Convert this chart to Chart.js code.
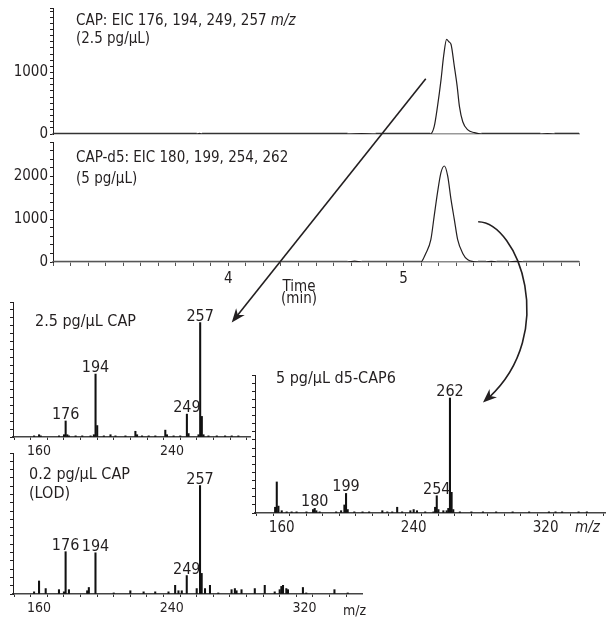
<!DOCTYPE html>
<html>
<head>
<meta charset="utf-8">
<script src="https://cdn.jsdelivr.net/npm/chart.js@4.4.1/dist/chart.umd.min.js"></script>
<style>
  html, body { margin: 0; padding: 0; background: #fff; }
  body { width: 614px; height: 621px; position: relative; overflow: hidden; }
  canvas { position: absolute; }
</style>
</head>
<body>
<canvas id="cromCap" width="614" height="142" style="left:0;top:0"></canvas>
<canvas id="cromD5" width="614" height="175" style="left:0;top:138px"></canvas>
<canvas id="espCap25" width="262" height="172" style="left:0;top:290px"></canvas>
<canvas id="espCap02" width="380" height="176" style="left:0;top:445px"></canvas>
<canvas id="espD5" width="369" height="175" style="left:245px;top:365px"></canvas>
<canvas id="setas" width="614" height="621" style="left:0;top:0;pointer-events:none"></canvas>
<script>
// --- cromatogramas (tempo em min, abundancia) ---
const tempoCap = [3.0, 3.82, 3.835, 3.85, 4.68, 4.76, 4.84, 5.151, 5.174, 5.193, 5.213, 5.228, 5.245, 5.258, 5.270, 5.289, 5.305, 5.318, 5.337, 5.366, 5.404, 5.443, 5.78, 5.82, 5.86, 6.0];
const abundCap = [0, 0, 10, 0, 0, 8, 0, 0, 120, 450, 880, 1270, 1540, 1500, 1460, 1100, 780, 450, 200, 66, 22, 0, 0, 8, 0, 0];

const tempoD5 = [3.0, 4.68, 4.72, 4.76, 5.098, 5.126, 5.155, 5.174, 5.193, 5.213, 5.232, 5.251, 5.270, 5.289, 5.308, 5.337, 5.366, 5.424, 5.47, 5.50, 5.53, 5.60, 5.64, 5.68, 6.0];
const abundD5 = [0, 0, 20, 0, 0, 200, 520, 1070, 1620, 2090, 2240, 2010, 1460, 990, 520, 200, 50, 0, 0, 15, 0, 0, 15, 0, 0];

const ticksTempo = [4, 5];
const ticksAbundCap = [0, 1000];
const ticksAbundD5 = [0, 1000, 2000];

// --- espectros de massa (m/z, intensidade relativa %) ---
const mzCap25 = [157, 160, 161, 172, 175, 176, 177, 178, 182, 186, 191, 193, 194, 195, 199, 203, 206, 212, 218, 219, 222, 226, 230, 236, 237, 241, 245, 249, 250, 256, 257, 258, 259, 262, 267, 272, 276, 280];
const intCap25 = [1, 2, 1, 1, 2, 14, 2, 1, 1, 1, 1, 2, 55, 10, 1, 2, 1, 1, 5, 2, 1, 1, 1, 6, 2, 1, 1, 20, 3, 2, 100, 18, 2, 1, 1, 1, 1, 1];
const picosCap25 = [176, 194, 249, 257];

const mzCap02 = [157, 160, 164, 172, 175, 176, 178, 189, 190, 194, 205, 215, 223, 230, 238, 242, 244, 246, 249, 255, 257, 258, 260, 263, 268, 276, 278, 279, 282, 290, 296, 302, 305, 306, 307, 309, 310, 319, 321, 338, 346];
const intCap02 = [2, 12, 5, 4, 2, 39, 4, 3, 6, 38, 1, 3, 2, 2, 2, 8, 3, 3, 17, 5, 100, 19, 5, 8, 1, 4, 5, 3, 4, 5, 8, 2, 4, 7, 8, 5, 4, 6, 1, 4, 1];
const picosCap02 = [176, 194, 249, 257];

const mzD5 = [156, 157, 158, 160, 163, 166, 169, 175, 179, 180, 181, 183, 193, 196, 198, 199, 200, 204, 209, 213, 221, 224, 227, 230, 233, 238, 240, 242, 247, 252, 253, 254, 255, 258, 260, 261, 262, 263, 264, 268, 275, 282, 290, 300, 310, 322, 326, 330, 340, 345];
const intD5 = [5, 27, 6, 2, 1, 1, 1, 1, 3, 4, 2, 1, 1, 2, 7, 17, 3, 1, 1, 1, 2, 1, 1, 5, 1, 2, 3, 2, 1, 1, 5, 15, 3, 2, 2, 4, 100, 18, 3, 1, 1, 1, 1, 1, 1, 1, 1, 1, 1, 1];
const picosD5 = [180, 199, 254, 262];

const ticksMz = [160, 240, 320];

const FONTE = '"Liberation Sans Narrow", "DejaVu Sans Condensed", "Liberation Sans", sans-serif';
const COR = '#231f20';

// desenha os textos soltos (titulos dos paineis)
const textosPlugin = {
    id: 'textos',
    afterDraw(chart, args, opts) {
        const ctx = chart.ctx;
        (opts.linhas || []).forEach(l => {
            ctx.save();
            ctx.fillStyle = COR;
            ctx.textBaseline = 'alphabetic';
            ctx.textAlign = l.alinhar || 'left';
            ctx.font = `${l.tamanho}px ${FONTE}`;
            ctx.fillText(l.texto, l.x, l.y);
            if (l.italico) {
                let x = l.x + ctx.measureText(l.texto).width;
                ctx.font = `italic ${l.tamanho}px ${FONTE}`;
                ctx.fillText(l.italico, x, l.y);
            }
            ctx.restore();
        });
    }
};

// rotulos em cima dos picos principais
const rotulosPlugin = {
    id: 'rotulos',
    afterDatasetsDraw(chart, args, opts) {
        if (!opts.picos) return;
        const ctx = chart.ctx;
        const dados = chart.data.datasets[0].data;
        ctx.save();
        ctx.fillStyle = COR;
        ctx.font = `16px ${FONTE}`;
        ctx.textAlign = 'center';
        ctx.textBaseline = 'alphabetic';
        opts.picos.forEach(mz => {
            const p = dados.find(d => d.x === mz);
            const x = chart.scales.x.getPixelForValue(p.x);
            const y = chart.scales.y.getPixelForValue(p.y);
            ctx.fillText(String(mz), x, y - 2);
        });
        ctx.restore();
    }
};

function fixaEixo(tamanho) {
    return function (eixo) {
        if (eixo.isHorizontal()) eixo.height = tamanho;
        else eixo.width = tamanho;
        eixo.paddingTop = 0;
        eixo.paddingBottom = 0;
        eixo.paddingLeft = 0;
        eixo.paddingRight = 0;
    };
}

function passos(inicio, fim, n) {
    let lista = [];
    for (let i = 0; i <= n; i++) lista.push(inicio + (fim - inicio) * i / n);
    return lista;
}

function criarCromatograma(id, tempos, valores, cfg) {
    return new Chart(document.getElementById(id), {
        type: 'line',
        data: {
            datasets: [{
                data: tempos.map((t, i) => ({ x: t, y: valores[i] })),
                borderColor: COR,
                borderWidth: 1.2,
                pointRadius: 0,
                cubicInterpolationMode: 'monotone',
                segment: {
                    borderWidth: c => (c.p0.parsed.y === 0 && c.p1.parsed.y === 0) ? 2.6 : 1.2,
                    borderColor: c => (c.p0.parsed.y === 0 && c.p1.parsed.y === 0) ? cfg.corBase : COR
                }
            }]
        },
        options: {
            responsive: false,
            animation: false,
            events: [],
            layout: { padding: cfg.padding },
            plugins: {
                legend: { display: false },
                tooltip: { enabled: false },
                textos: { linhas: cfg.textos }
            },
            scales: {
                x: {
                    type: 'linear',
                    min: 3,
                    max: 6,
                    afterBuildTicks: eixo => { eixo.ticks = passos(3, 6, 30).map(v => ({ value: v })); },
                    afterFit: fixaEixo(cfg.alturaX),
                    border: { display: true, color: cfg.corEixoX, width: 1.5 },
                    grid: { display: cfg.ticksX, drawOnChartArea: false, drawTicks: true, tickLength: 4, color: '#555' },
                    ticks: {
                        display: cfg.ticksX,
                        autoSkip: false,
                        maxRotation: 0,
                        padding: 4,
                        color: COR,
                        font: { family: FONTE, size: 15 },
                        callback: v => ticksTempo.find(t => Math.abs(t - v) < 1e-6) ? String(Math.round(v)) : ''
                    }
                },
                y: {
                    min: 0,
                    max: cfg.maxY,
                    afterBuildTicks: eixo => {
                        let lista = [];
                        for (let v = 0; v <= cfg.maxY; v += cfg.passoY) lista.push({ value: v });
                        lista.push({ value: cfg.maxY });
                        eixo.ticks = lista;
                    },
                    afterFit: fixaEixo(53),
                    border: { display: true, color: COR, width: 1 },
                    grid: { drawOnChartArea: false, drawTicks: true, tickLength: 3, color: COR },
                    ticks: {
                        autoSkip: false,
                        padding: 2,
                        color: COR,
                        font: { family: FONTE, size: 15 },
                        callback: v => cfg.rotulosY.includes(v) ? String(v) : ''
                    }
                }
            }
        },
        plugins: [textosPlugin]
    });
}

function criarEspectro(id, mz, intens, cfg) {
    return new Chart(document.getElementById(id), {
        type: 'bar',
        data: {
            datasets: [{
                data: mz.map((m, i) => ({ x: m, y: intens[i] })),
                backgroundColor: '#111',
                barThickness: 1.4
            }]
        },
        options: {
            responsive: false,
            animation: false,
            events: [],
            layout: { padding: cfg.padding },
            plugins: {
                legend: { display: false },
                tooltip: { enabled: false },
                textos: { linhas: cfg.textos },
                rotulos: { picos: cfg.picos }
            },
            scales: {
                x: {
                    type: 'linear',
                    min: cfg.minX,
                    max: cfg.maxX,
                    offset: false,
                    afterBuildTicks: eixo => {
                        let lista = [];
                        for (let v = 150; v <= cfg.maxX; v += 10) lista.push({ value: v });
                        eixo.ticks = lista;
                    },
                    afterFit: fixaEixo(cfg.alturaX),
                    border: { display: true, color: '#444', width: 1.5 },
                    grid: { drawOnChartArea: false, drawTicks: true, tickLength: 3, color: '#333' },
                    ticks: {
                        autoSkip: false,
                        maxRotation: 0,
                        padding: 3,
                        color: COR,
                        font: { family: FONTE, size: cfg.fonteX },
                        callback: v => ticksMz.includes(v) ? String(v) : ''
                    }
                },
                y: {
                    min: 0,
                    max: cfg.maxY,
                    afterBuildTicks: eixo => { eixo.ticks = passos(0, cfg.maxY, 17).map(v => ({ value: v })); },
                    afterFit: fixaEixo(cfg.larguraY),
                    border: { display: true, color: COR, width: 1 },
                    grid: { drawOnChartArea: false, drawTicks: true, tickLength: 3, color: COR },
                    ticks: { display: false }
                }
            }
        },
        plugins: [textosPlugin, rotulosPlugin]
    });
}

let cromCap = criarCromatograma('cromCap', tempoCap, abundCap, {
    padding: { top: 8, right: 35, left: 0, bottom: 0 },
    alturaX: 8, maxY: 2050, passoY: 100, rotulosY: ticksAbundCap,
    ticksX: false, corEixoX: '#999', corBase: '#333',
    textos: [
        { texto: 'CAP: EIC 176, 194, 249, 257 ', italico: 'm/z', x: 76, y: 25, tamanho: 15 },
        { texto: '(2.5 pg/µL)', x: 76, y: 43, tamanho: 15 }
    ]
});

let cromD5 = criarCromatograma('cromD5', tempoD5, abundD5, {
    padding: { top: 4, right: 35, left: 0, bottom: 0 },
    alturaX: 51, maxY: 2800, passoY: 200, rotulosY: ticksAbundD5,
    ticksX: true, corEixoX: '#888', corBase: '#555',
    textos: [
        { texto: 'CAP-d5: EIC 180, 199, 254, 262', x: 76, y: 24, tamanho: 15 },
        { texto: '(5 pg/µL)', x: 76, y: 44.5, tamanho: 15 },
        { texto: 'Time', x: 299, y: 153, tamanho: 15, alinhar: 'center' },
        { texto: '(min)', x: 299, y: 165, tamanho: 15, alinhar: 'center' }
    ]
});

let espCap25 = criarEspectro('espCap25', mzCap25, intCap25, {
    padding: { top: 12, right: 12, left: 0, bottom: 0 },
    minX: 144.3, maxX: 287, maxY: 118, larguraY: 13, alturaX: 25, fonteX: 14,
    picos: picosCap25,
    textos: [{ texto: '2.5 pg/µL CAP', x: 35, y: 35.7, tamanho: 16 }]
});

let espCap02 = criarEspectro('espCap02', mzCap02, intCap02, {
    padding: { top: 8, right: 18, left: 0, bottom: 0 },
    minX: 144.3, maxX: 354.6, maxY: 130, larguraY: 13, alturaX: 27, fonteX: 14,
    picos: picosCap02,
    textos: [
        { texto: '0.2 pg/µL CAP', x: 29, y: 34, tamanho: 16 },
        { texto: '(LOD)', x: 29, y: 53, tamanho: 16 },
        { texto: 'm/z', x: 343, y: 170, tamanho: 14 }
    ]
});

let espD5 = criarEspectro('espD5', mzD5, intD5, {
    padding: { top: 10, right: 9, left: 0, bottom: 0 },
    minX: 143.8, maxX: 356, maxY: 120, larguraY: 10, alturaX: 27, fonteX: 15,
    picos: picosD5,
    textos: [
        { texto: '5 pg/µL d5-CAP6', x: 31, y: 18, tamanho: 16 },
        { texto: '', italico: 'm/z', x: 330, y: 167, tamanho: 15 }
    ]
});

// --- setas ligando os picos aos espectros ---
function ponto(chart, x, y) {
    const el = chart.canvas;
    return {
        x: el.offsetLeft + chart.scales.x.getPixelForValue(x),
        y: el.offsetTop + chart.scales.y.getPixelForValue(y)
    };
}

function pontaSeta(ctx, ponta, de) {
    let dx = ponta.x - de.x, dy = ponta.y - de.y;
    let d = Math.hypot(dx, dy);
    let ux = dx / d, uy = dy / d;
    let nx = -uy, ny = ux;
    const L = 14, W = 5.5;
    ctx.beginPath();
    ctx.moveTo(ponta.x, ponta.y);
    ctx.lineTo(ponta.x - L * ux + W * nx, ponta.y - L * uy + W * ny);
    ctx.lineTo(ponta.x - L * 0.7 * ux, ponta.y - L * 0.7 * uy);
    ctx.lineTo(ponta.x - L * ux - W * nx, ponta.y - L * uy - W * ny);
    ctx.closePath();
    ctx.fill();
}

let setas = document.getElementById('setas').getContext('2d');
setas.strokeStyle = COR;
setas.fillStyle = COR;
setas.lineWidth = 1.6;

let ini1 = ponto(cromCap, 5.126, 900);
let fim1 = ponto(espCap25, 276, 100);
setas.beginPath();
setas.moveTo(ini1.x, ini1.y);
setas.lineTo(fim1.x + (ini1.x - fim1.x) * 0.03, fim1.y + (ini1.y - fim1.y) * 0.03);
setas.stroke();
pontaSeta(setas, fim1, ini1);

let ini2 = ponto(cromD5, 5.425, 940);
let fim2 = ponto(espD5, 282, 96);
let c1 = { x: ini2.x + 40, y: ini2.y + 1 };
let c2 = { x: fim2.x + 76, y: fim2.y - 70 };
setas.beginPath();
setas.moveTo(ini2.x, ini2.y);
setas.bezierCurveTo(c1.x, c1.y, c2.x, c2.y, fim2.x + 6, fim2.y - 5);
setas.stroke();
pontaSeta(setas, fim2, c2);
</script>
</body>
</html>
